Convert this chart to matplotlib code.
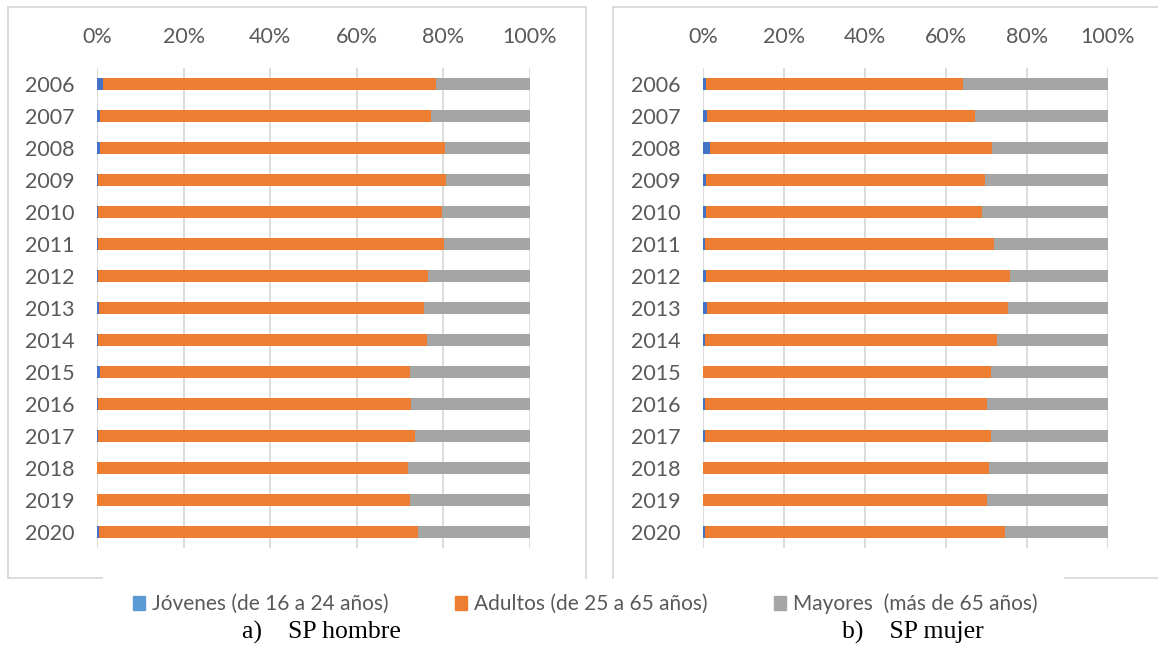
import matplotlib
matplotlib.use("Agg")
import matplotlib.pyplot as plt
from matplotlib.patches import Patch
from matplotlib.lines import Line2D

plt.rcParams["font.family"] = ["Lato", "DejaVu Sans"]

years = ["2006", "2007", "2008", "2009", "2010", "2011", "2012", "2013",
         "2014", "2015", "2016", "2017", "2018", "2019", "2020"]

# SP hombre (% of total)
jov_h = [1.4, 0.8, 0.6, 0.2, 0.3, 0.2, 0.2, 0.5, 0.3, 0.6, 0.3, 0.2, 0.1, 0.1, 0.4]
adu_h = [77.0, 76.3, 79.8, 80.5, 79.4, 79.9, 76.3, 75.1, 75.9, 71.6, 72.2, 73.3, 71.8, 72.1, 73.8]

# SP mujer (% of total)
jov_m = [0.7, 1.0, 1.7, 0.7, 0.7, 0.5, 0.7, 1.0, 0.6, 0.1, 0.5, 0.6, 0.1, 0.1, 0.5]
adu_m = [63.4, 66.1, 69.7, 68.9, 68.2, 71.4, 75.1, 74.3, 72.0, 71.0, 69.7, 70.6, 70.6, 70.1, 74.1]

labels = ["Jóvenes (de 16 a 24 años)", "Adultos (de 25 a 65 años)", "Mayores  (más de 65 años)"]
bar_colors = ["#4472C4", "#ED7D31", "#A5A5A5"]
leg_colors = ["#5B9BD5", "#ED7D31", "#A5A5A5"]
captions = ["a)    SP hombre", "b)    SP mujer"]

txt = "#595959"
W, H = 1158, 648
fig = plt.figure(figsize=(W / 100, H / 100), dpi=100)


def draw(ax, jov, adu):
    may = [100 - j - a for j, a in zip(jov, adu)]
    pos = range(len(years))
    ax.barh(pos, jov, height=0.4, color=bar_colors[0])
    ax.barh(pos, adu, left=jov, height=0.4, color=bar_colors[1])
    left2 = [j + a for j, a in zip(jov, adu)]
    ax.barh(pos, may, left=left2, height=0.4, color=bar_colors[2])
    ax.set_xlim(0, 100)
    ax.set_ylim(len(years) - 0.5, -0.5)
    ax.set_yticks(list(pos))
    ax.set_yticklabels(years)
    ax.set_xticks([0, 20, 40, 60, 80, 100])
    ax.set_xticklabels(["0%", "20%", "40%", "60%", "80%", "100%"])
    ax.xaxis.tick_top()
    ax.tick_params(axis="x", length=0, pad=15, labelsize=15.5, labelcolor=txt)
    ax.tick_params(axis="y", length=0, pad=16, labelsize=15.5, labelcolor=txt)
    for s in ax.spines.values():
        s.set_visible(False)
    ax.grid(axis="x", color="#D9D9D9", linewidth=1.3)
    ax.set_axisbelow(True)


ax1 = fig.add_axes([97 / W, 1 - 548 / H, 433 / W, 480 / H])
draw(ax1, jov_h, adu_h)
ax2 = fig.add_axes([703 / W, 1 - 548 / H, 405 / W, 480 / H])
draw(ax2, jov_m, adu_m)


def seg(x0, y0, x1, y1):
    fig.add_artist(Line2D([x0 / W, x1 / W], [1 - y0 / H, 1 - y1 / H],
                          color="#D9D9D9", linewidth=1.3))


# panel frames (bottom edges cut by the legend)
seg(8, 7, 586, 7)
seg(8, 7, 8, 578)
seg(586, 7, 586, 578)
seg(8, 578, 102, 578)
seg(613, 7, 1158, 7)
seg(613, 7, 613, 578)
seg(1065, 578, 1158, 578)

handles = [Patch(color=c) for c in leg_colors]
fig.legend(handles, labels, loc="center", bbox_to_anchor=(585 / W, 1 - 604 / H),
           ncol=3, frameon=False, fontsize=15, labelcolor=txt,
           handlelength=0.6, handleheight=0.6, handletextpad=0.3, columnspacing=3.2)

fig.text(321 / W, 1 - 632 / H, captions[0], ha="center", va="center",
         family="Liberation Serif", fontsize=18.5)
fig.text(913 / W, 1 - 632 / H, captions[1], ha="center", va="center",
         family="Liberation Serif", fontsize=18.5)

fig.savefig("out.png", dpi=100)
